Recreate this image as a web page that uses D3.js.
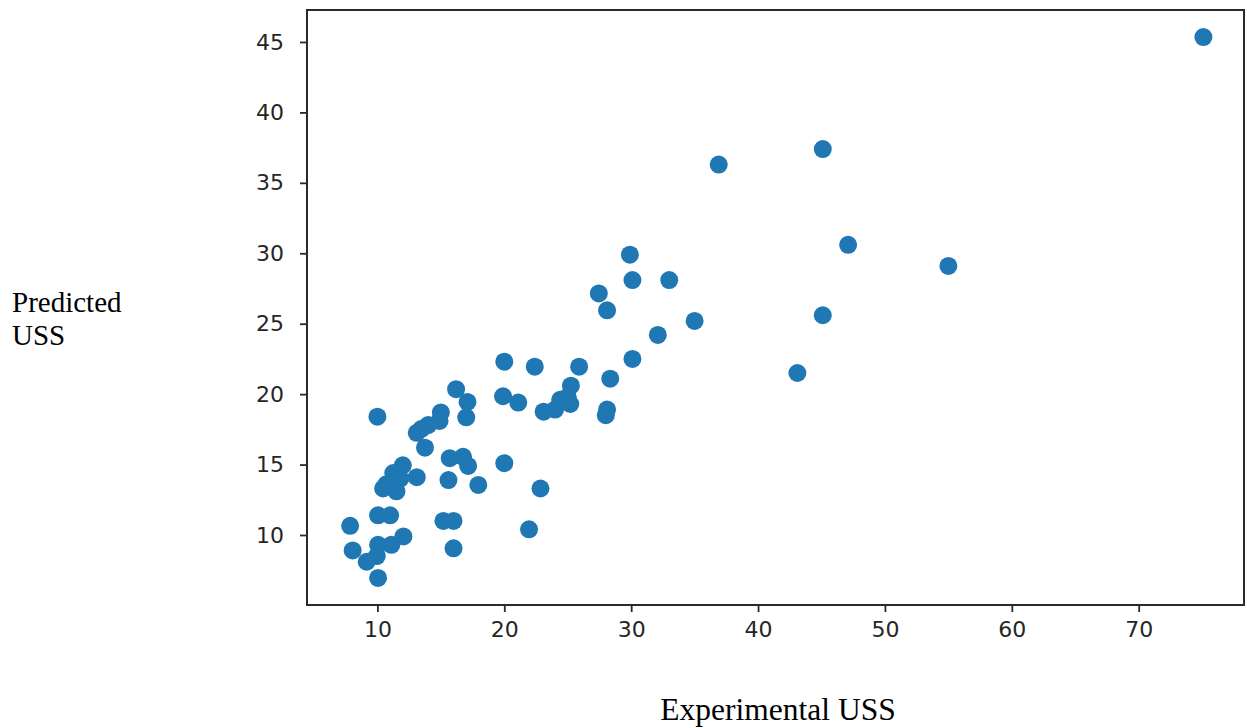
<!DOCTYPE html>
<html lang="en">
<head>
    <meta charset="UTF-8">
    <title>Predicted vs Experimental USS</title>
    <script src="https://d3js.org/d3.v7.min.js"></script>
    <style>
        body {
            margin: 0;
            background: #fff;
        }

        .tick text {
            font-family: "DejaVu Sans", sans-serif;
            font-size: 22px;
            fill: #262626;
        }

        .axis-title {
            font-family: "Liberation Serif", "Times New Roman", serif;
            font-size: 29px;
            fill: #000;
        }

        .axis-title.x-title {
            font-size: 31.5px;
        }
    </style>
</head>
<body>
    <svg width="1247" height="728"></svg>

    <script>
        // experimental USS (x) and predicted USS (y)
        var experimental = [
            75.1, 45.1, 36.9, 47.1, 55.0, 45.1, 43.1,
            29.9, 30.1, 33.0, 27.45, 28.1, 35.0, 32.1, 30.1,
            20.0, 22.4, 25.9, 28.35, 25.25, 19.9, 21.1, 23.1, 24.0, 24.4, 25.0, 25.2, 28.0, 28.1,
            10.0, 16.2, 17.1, 17.0, 15.0, 14.9, 14.0, 13.5, 13.1, 13.75,
            15.7, 16.75, 17.15, 20.0, 15.6, 17.95, 22.85,
            12.0, 11.25, 13.1, 11.8, 10.7, 10.45, 11.5,
            10.05, 11.0, 7.85, 15.2, 16.0, 16.0, 21.95,
            8.05, 9.15, 10.05, 10.05, 9.95, 11.1, 12.05
        ];
        var predicted = [
            45.35, 37.4, 36.3, 30.6, 29.1, 25.6, 21.5,
            29.9, 28.1, 28.1, 27.15, 25.95, 25.2, 24.2, 22.5,
            22.3, 21.95, 21.95, 21.1, 20.6, 19.85, 19.4, 18.75, 18.9, 19.6, 19.8, 19.3, 18.5, 18.9,
            18.4, 20.35, 19.45, 18.35, 18.7, 18.1, 17.8, 17.55, 17.25, 16.2,
            15.45, 15.55, 14.9, 15.1, 13.9, 13.55, 13.3,
            14.95, 14.4, 14.1, 14.0, 13.6, 13.3, 13.1,
            11.4, 11.4, 10.65, 11.0, 11.0, 9.05, 10.4,
            8.9, 8.1, 6.95, 9.3, 8.5, 9.3, 9.9
        ];
        var xTicks = [10, 20, 30, 40, 50, 60, 70];
        var yTicks = [10, 15, 20, 25, 30, 35, 40, 45];

        var points = experimental.map(function(d, i) { return { x: d, y: predicted[i] }; });

        // plot box (window.top is read-only, so no plain "top" here)
        var box = { left: 307, right: 1244, top: 10, bottom: 605 };

        var svg = d3.select("svg");

        var x = d3.scaleLinear().domain([4.45, 78.3]).range([box.left, box.right]);
        var y = d3.scaleLinear().domain([5.03, 47.27]).range([box.bottom, box.top]);

        // points first, frame drawn over them
        svg.append("g")
            .selectAll("circle")
            .data(points)
            .enter().append("circle")
            .attr("cx", function(d) { return x(d.x); })
            .attr("cy", function(d) { return y(d.y); })
            .attr("r", 9)
            .attr("fill", "#1f77b4");

        var xAxis = svg.append("g")
            .attr("transform", "translate(0," + box.bottom + ")")
            .call(d3.axisBottom(x).tickValues(xTicks).tickSize(7).tickPadding(9));

        var yAxis = svg.append("g")
            .attr("transform", "translate(" + box.left + ",0)")
            .call(d3.axisLeft(y).tickValues(yTicks).tickSize(7).tickPadding(16));

        [xAxis, yAxis].forEach(function(g) {
            g.select(".domain").remove();
            g.selectAll(".tick line").attr("stroke", "#2a2a2a").attr("stroke-width", 1.8);
        });

        svg.append("rect")
            .attr("x", box.left)
            .attr("y", box.top)
            .attr("width", box.right - box.left)
            .attr("height", box.bottom - box.top)
            .attr("fill", "none")
            .attr("stroke", "#2a2a2a")
            .attr("stroke-width", 2);

        svg.append("text")
            .attr("class", "axis-title x-title")
            .attr("x", 778)
            .attr("y", 720)
            .attr("text-anchor", "middle")
            .text("Experimental USS");

        var yTitle = svg.append("text")
            .attr("class", "axis-title")
            .attr("x", 12)
            .attr("y", 312);
        yTitle.append("tspan").attr("x", 12).text("Predicted");
        yTitle.append("tspan").attr("x", 12).attr("dy", 33).text("USS");
    </script>
</body>
</html>
